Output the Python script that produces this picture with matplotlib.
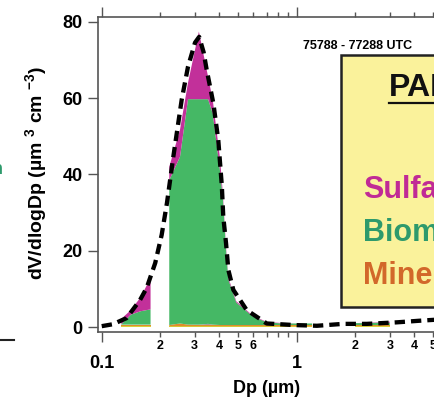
import matplotlib
matplotlib.use("Agg")
import matplotlib.pyplot as plt
import matplotlib.patches as mpatches
from matplotlib.lines import Line2D
from matplotlib.ticker import FixedLocator, FuncFormatter
import numpy as np

# ---- data ----
# particle diameter (um) per segment of the stacked composition
d_seg1 = [0.126, 0.141, 0.158, 0.178]
d_seg2 = [0.222, 0.252, 0.277, 0.315, 0.351, 0.371, 0.404, 0.418,
          0.434, 0.446, 0.49, 0.597, 0.704, 0.85, 1.0, 1.2]
d_seg3 = [2.0, 2.3, 2.6, 3.0]

# component volumes (dV/dlogDp)
other_seg1 = [0.3, 0.3, 0.3, 0.3]
mineral_seg1 = [0.4, 0.4, 0.4, 0.4]
gray_seg1 = [0.0, 0.0, 0.0, 0.0]
biomass_seg1 = [0.1, 2.6, 3.5, 4.0]
sulfate_seg1 = [1.4, 1.2, 3.6, 8.2]

other_seg2 = [0.3] * 16
mineral_seg2 = [0.3, 0.7, 0.4, 0.3, 0.3, 0.3, 0.3, 0.3,
                0.3, 0.3, 0.3, 0.3, 0.3, 0.3, 0.3, 0.3]
gray_seg2 = [0.0, 0.0, 0.0, 0.1, 0.3, 0.1, 0.0, 0.0,
             0.0, 0.0, 0.0, 0.0, 0.0, 0.0, 0.0, 0.0]
biomass_seg2 = [37.9, 43.6, 59.0, 59.0, 58.8, 55.3, 40.4, 33.2,
                19.7, 11.9, 5.9, 2.2, 0.7, 0.4, 0.4, 0.4]
sulfate_seg2 = [3.5, 7.1, 4.3, 17.7, 5.9, 3.5, 3.3, 1.2,
                0.7, 0.5, 0.3, 0.2, 0.1, 0.1, 0.0, 0.0]

other_seg3 = [0.3, 0.3, 0.3, 0.3]
mineral_seg3 = [0.3, 0.3, 0.3, 0.3]
gray_seg3 = [0.0, 0.0, 0.0, 0.0]
biomass_seg3 = [0.5, 0.5, 0.6, 0.6]
sulfate_seg3 = [0.0, 0.1, 0.1, 0.3]

# total volume distribution (dashed)
d_total = [0.10, 0.114, 0.134, 0.157, 0.170, 0.188, 0.203, 0.216, 0.233,
           0.257, 0.277, 0.301, 0.316, 0.333, 0.345, 0.374, 0.396, 0.413,
           0.420, 0.434, 0.446, 0.473, 0.554, 0.702, 0.961, 1.27, 1.73,
           2.29, 3.26, 4.21, 6.0, 8.0]
v_total = [0.3, 0.8, 2.4, 7.1, 10.3, 16.8, 24.2, 32.5, 44.7,
           59.5, 68.2, 74.5, 76.0, 72.0, 67.5, 58.5, 49.0, 37.0,
           29.0, 22.0, 15.0, 9.8, 4.5, 1.0, 0.6, 0.4, 0.9,
           0.9, 1.3, 1.7, 2.2, 2.5]

legend_names = ["Sulfate", "Biomass", "Mineral"]
minor_labelled = [2, 3, 4, 5, 6]

# ---- style ----
MAGENTA = "#C2309A"
GREEN = "#45B865"
ORANGE = "#E08C2C"
YELLOW = "#D8CF3A"
GRAY = "#A0A0A0"
LEGEND_COLORS = ["#C02A96", "#2E9A6C", "#D2682A"]
BOX_FILL = "#FAF29B"

plt.rcParams["font.family"] = ["Liberation Sans", "DejaVu Sans"]
plt.rcParams["font.weight"] = "bold"
plt.rcParams["mathtext.fontset"] = "custom"
plt.rcParams["mathtext.rm"] = "Liberation Sans:bold"
plt.rcParams["mathtext.default"] = "regular"

W, H = 434, 397
fig = plt.figure(figsize=(W / 100, H / 100), dpi=100)


def fx(x):
    return x / W


def fy(y):
    return 1 - y / H


ax = fig.add_axes([fx(98), fy(331.7), fx(437) - fx(98), fy(17) - fy(331.7)])
ax.set_xscale("log")
ax.set_xlim(0.0957, 5.24)
ax.set_ylim(-1.15, 81.2)

segments = [
    (d_seg1, other_seg1, mineral_seg1, gray_seg1, biomass_seg1, sulfate_seg1),
    (d_seg2, other_seg2, mineral_seg2, gray_seg2, biomass_seg2, sulfate_seg2),
    (d_seg3, other_seg3, mineral_seg3, gray_seg3, biomass_seg3, sulfate_seg3),
]
for d, oth, mi, gr, bi, su in segments:
    ax.stackplot(d, oth, mi, gr, bi, su,
                 colors=[YELLOW, ORANGE, GRAY, GREEN, MAGENTA],
                 linewidth=0, zorder=2)

ax.plot(d_total, v_total, color="black", lw=3.1, dashes=(2.4, 1.4),
        zorder=3)

# axes styling
for side in ["left", "bottom", "top", "right"]:
    ax.spines[side].set_color("#555555")
    ax.spines[side].set_linewidth(1.2)

ax.set_yticks([0, 20, 40, 60, 80])
ax.tick_params(axis="y", which="major", direction="out", length=7, width=1,
               color="#555555", labelsize=13, pad=4)
ax.tick_params(axis="x", which="major", direction="out", length=7, width=1,
               color="#555555", labelsize=13, pad=10, top=True)
ax.tick_params(axis="x", which="minor", direction="out", length=3.5, width=1,
               color="#555555", labelsize=9, pad=2.8, top=True)

ax.xaxis.set_major_locator(FixedLocator([0.1, 1, 10]))
ax.xaxis.set_major_formatter(FuncFormatter(lambda v, p: f"{v:g}"))
minor_pos = [m * 10.0 ** e for e in (-2, -1, 0) for m in range(2, 10)]
ax.xaxis.set_minor_locator(FixedLocator(minor_pos))


def minor_fmt(v, p):
    lead = int(round(v / 10 ** np.floor(np.log10(v) + 1e-9)))
    return str(lead) if lead in minor_labelled else ""


ax.xaxis.set_minor_formatter(FuncFormatter(minor_fmt))

# axis titles
fig.text(fx(36), fy(173), "dV/dlogDp (µm $^{3}$ cm $^{-3}$)", rotation=90,
         ha="center", va="center", fontsize=14, fontweight="bold")
fig.text(fx(267), fy(393), "Dp (µm)", ha="center", va="baseline",
         fontsize=13, fontweight="bold")

fig.text(fx(357.5), fy(49), "75788 - 77288 UTC", ha="center", va="baseline",
         fontsize=9, fontweight="bold")

# legend box (cropped on the right)
box = mpatches.Rectangle((fx(340.5), fy(306.7)), fx(470) - fx(340.5),
                         fy(55) - fy(306.7), transform=fig.transFigure,
                         facecolor=BOX_FILL, edgecolor="#222222",
                         linewidth=1.8, zorder=5)
fig.patches.append(box)
fig.text(fx(389), fy(96), "PALMS", ha="left", va="baseline", fontsize=23,
         fontweight="bold", color="#111111", zorder=6)
fig.lines.append(Line2D([fx(389), fx(470)], [fy(102.5), fy(102.5)],
                        transform=fig.transFigure, color="#111111", lw=1.6,
                        zorder=6))
for i, (name, col) in enumerate(zip(legend_names, LEGEND_COLORS)):
    fig.text(fx(363), fy(198 + 43 * i), name, ha="left", va="baseline",
             fontsize=22, fontweight="bold", color=col, zorder=6)

# fragments of the neighbouring panel on the left edge
fig.text(fx(2.5), fy(174), "n", ha="right", va="baseline", fontsize=13,
         fontweight="bold", color="#2E9A6C")
fig.lines.append(Line2D([fx(0), fx(14)], [fy(340), fy(340)],
                        transform=fig.transFigure, color="#222222", lw=1.5))

fig.savefig("out.png", dpi=100, facecolor="white")
